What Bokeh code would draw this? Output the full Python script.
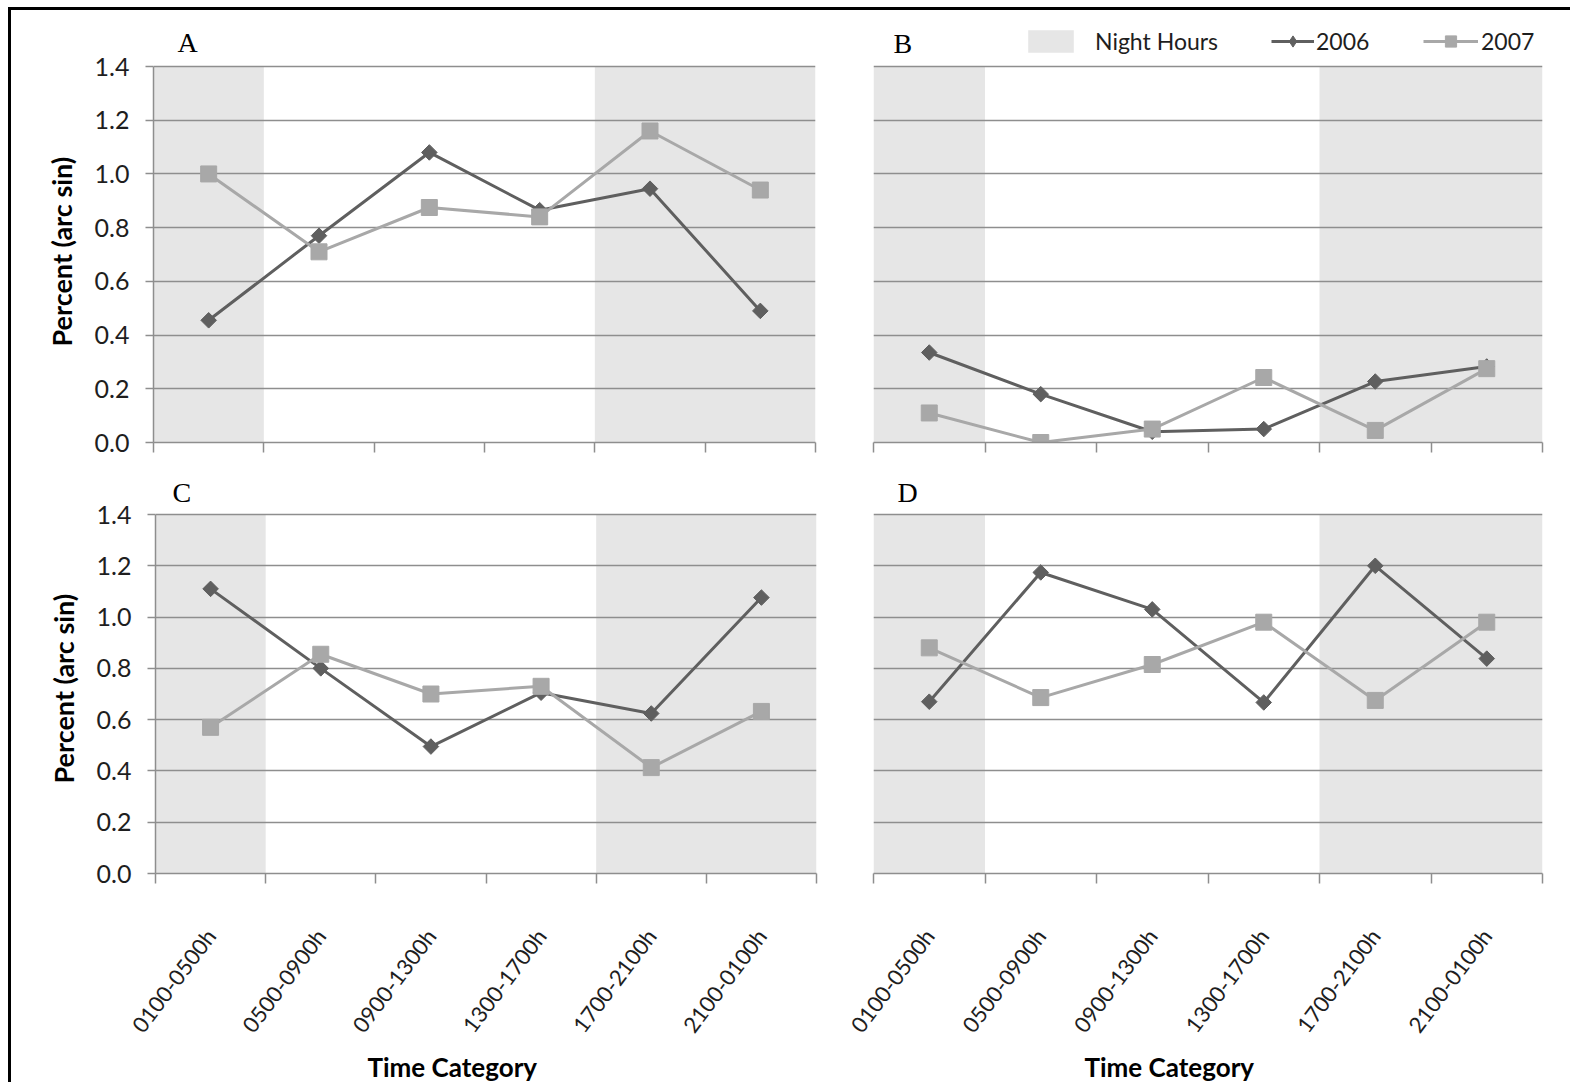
import math
from bokeh.plotting import figure
from bokeh.models import (Range1d, FixedTicker, PrintfTickFormatter, Legend,
                          LegendItem, Title, Label)
from bokeh.layouts import column, row
from bokeh.embed import file_html
from bokeh.resources import INLINE

# ---------------- data ----------------
categories = ["0100-0500h", "0500-0900h", "0900-1300h",
              "1300-1700h", "1700-2100h", "2100-0100h"]
night = [True, False, False, False, True, True]
y_ticks = [0.0, 0.2, 0.4, 0.6, 0.8, 1.0, 1.2, 1.4]

a_2006 = [0.455, 0.77, 1.08, 0.865, 0.945, 0.49]
a_2007 = [1.00, 0.71, 0.875, 0.84, 1.16, 0.94]
b_2006 = [0.335, 0.18, 0.04, 0.05, 0.227, 0.283]
b_2007 = [0.11, 0.0, 0.05, 0.242, 0.045, 0.275]
c_2006 = [1.11, 0.80, 0.495, 0.705, 0.624, 1.076]
c_2007 = [0.57, 0.855, 0.70, 0.73, 0.413, 0.632]
d_2006 = [0.67, 1.174, 1.03, 0.667, 1.20, 0.838]
d_2007 = [0.88, 0.686, 0.815, 0.98, 0.675, 0.98]

# ---------------- style ----------------
SANS = "Lato"
SERIF = "Liberation Serif"
C2006 = "#5f5f5f"
C2007 = "#a8a8a8"
SHADE = "#e6e6e6"
GRID = "#8e8e8e"
TXT = "#1e1e1e"
Y_MAX = 1.4

n = len(categories)
centers = [i + 0.5 for i in range(n)]
bounds = list(range(n + 1))

# contiguous night blocks
blocks = []
start = None
for i, f in enumerate(night + [False]):
    if f and start is None:
        start = i
    if not f and start is not None:
        blocks.append((start, i))
        start = None


def make_panel(letter, s06, s07, width, height, mbl, mbr, mbb,
               plot_px, extra_px, left_axis, bottom_labels, letter_dx,
               letter_dy, ylabel_offset=0, xlabel_offset=0):
    # frame extends extra_px above the 1.4 line so that the letter and
    # legend live inside it
    y_end = Y_MAX * (plot_px + extra_px) / plot_px
    p = figure(width=width, height=height, x_range=Range1d(0, n),
               y_range=Range1d(0, y_end), output_backend="svg",
               toolbar_location=None, min_border_left=mbl,
               min_border_right=mbr, min_border_top=5,
               min_border_bottom=mbb)
    p.outline_line_color = None
    p.background_fill_color = "white"
    p.border_fill_color = "white"

    p.add_layout(Label(x=0, y=Y_MAX, x_offset=letter_dx, y_offset=letter_dy,
                       text=letter, text_font=SERIF, text_font_size="28px",
                       text_color="black", text_baseline="alphabetic",
                       text_align="left"))

    shade = p.quad(left=[b[0] for b in blocks], right=[b[1] for b in blocks],
                   bottom=[0] * len(blocks), top=[Y_MAX] * len(blocks),
                   fill_color=SHADE, line_color=None, level="underlay")

    l06 = p.line(centers, s06, line_color=C2006, line_width=3)
    m06 = p.scatter(centers, s06, marker="square", angle=math.pi / 4,
                    size=11, fill_color=C2006, line_color=C2006)
    l07 = p.line(centers, s07, line_color=C2007, line_width=3)
    m07 = p.scatter(centers, s07, marker="square", size=16,
                    fill_color=C2007, line_color=C2007)
    # undrawn (NaN) point used only for the legend symbol
    k06 = p.scatter([float("nan")], [float("nan")], marker="diamond",
                    size=14, fill_color=C2006, line_color=C2006)

    # grid
    p.xgrid.visible = False
    p.ygrid.grid_line_color = GRID
    p.ygrid.grid_line_width = 1.5

    # y axis
    ya = p.yaxis[0]
    ya.ticker = FixedTicker(ticks=y_ticks)
    ya.formatter = PrintfTickFormatter(format="%.1f")
    ya.bounds = (0, Y_MAX)
    if left_axis:
        ya.axis_line_color = GRID
        ya.axis_line_width = 1.5
        ya.major_tick_line_color = GRID
        ya.major_tick_line_width = 1.5
        ya.major_tick_out = 8
        ya.major_tick_in = 0
        ya.minor_tick_line_color = None
        ya.major_label_text_font = SANS
        ya.major_label_text_font_size = "25px"
        ya.major_label_text_color = TXT
        ya.major_label_standoff = 16
        p.add_layout(Title(text="Percent (arc sin)", align="left",
                           offset=ylabel_offset, standoff=28,
                           text_font=SANS, text_font_size="27px",
                           text_font_style="bold", text_color="black"),
                     "left")
    else:
        ya.axis_line_color = None
        ya.major_tick_line_color = None
        ya.minor_tick_line_color = None
        ya.major_label_text_font_size = "0px"
        ya.major_label_text_color = None

    # x axis
    xa = p.xaxis[0]
    xa.axis_line_color = GRID
    xa.axis_line_width = 1.5
    if bottom_labels:
        xa.ticker = FixedTicker(ticks=centers, minor_ticks=bounds)
        xa.major_label_overrides = {c: lab for c, lab in zip(centers, categories)}
        xa.major_tick_line_color = None
        xa.minor_tick_line_color = GRID
        xa.minor_tick_line_width = 1.5
        xa.minor_tick_out = 10
        xa.minor_tick_in = 0
        xa.major_label_orientation = math.radians(53)
        xa.major_label_text_font = SANS
        xa.major_label_text_font_size = "22px"
        xa.major_label_text_color = TXT
        xa.major_label_standoff = 48
        p.add_layout(Title(text="Time Category", align="left",
                           offset=xlabel_offset, standoff=0,
                           text_font=SANS, text_font_size="26px",
                           text_font_style="bold", text_color="black"),
                     "below")
    else:
        xa.ticker = FixedTicker(ticks=bounds)
        xa.major_tick_line_color = GRID
        xa.major_tick_line_width = 1.5
        xa.major_tick_out = 10
        xa.major_tick_in = 0
        xa.minor_tick_line_color = None
        xa.major_label_text_font_size = "0px"
        xa.major_label_text_color = None
    return p, shade, (l06, k06), (l07, m07)


# row 1: page y 10..470, frame 15..442, 1.4-line at 66
# row 2: page y 470..1082, frame 475..873, 1.4-line at 514
pA, *_ = make_panel("A", a_2006, a_2007, 824, 460, 142, 20, 28,
                    376, 51, True, False, 24, 24, ylabel_offset=96)
pB, shB, r06, r07 = make_panel("B", b_2006, b_2007, 735, 460, 38, 28, 28,
                               376, 51, False, False, 20, 23)
pC, *_ = make_panel("C", c_2006, c_2007, 824, 612, 144, 19, 209,
                    359, 39, True, True, 17, 22, ylabel_offset=90,
                    xlabel_offset=212)
pD, *_ = make_panel("D", d_2006, d_2007, 735, 612, 38, 28, 209,
                    359, 39, False, True, 24, 22, xlabel_offset=211)


def add_leg(label, rends, x, gw, standoff):
    leg = Legend(items=[LegendItem(label=label, renderers=rends)],
                 location=(x, 376 + 11), orientation="horizontal",
                 glyph_width=gw, glyph_height=28, label_standoff=standoff,
                 padding=0, margin=0, border_line_color=None,
                 background_fill_alpha=0, label_text_font=SANS,
                 label_text_font_size="23px", label_text_color=TXT,
                 label_height=28)
    pB.add_layout(leg)


add_leg("Night Hours", [shB], 1022 - 873, 57, 16)
add_leg("2006", list(r06), 1271 - 873, 43, 2)
add_leg("2007", list(r07), 1423 - 873, 55, 3)

layout = column(row(pA, pB), row(pC, pD), margin=(7, 0, 0, 8),
                styles={"border-left": "3px solid black",
                        "border-top": "3px solid black"})

open("out.html", "w").write(file_html(layout, INLINE))
